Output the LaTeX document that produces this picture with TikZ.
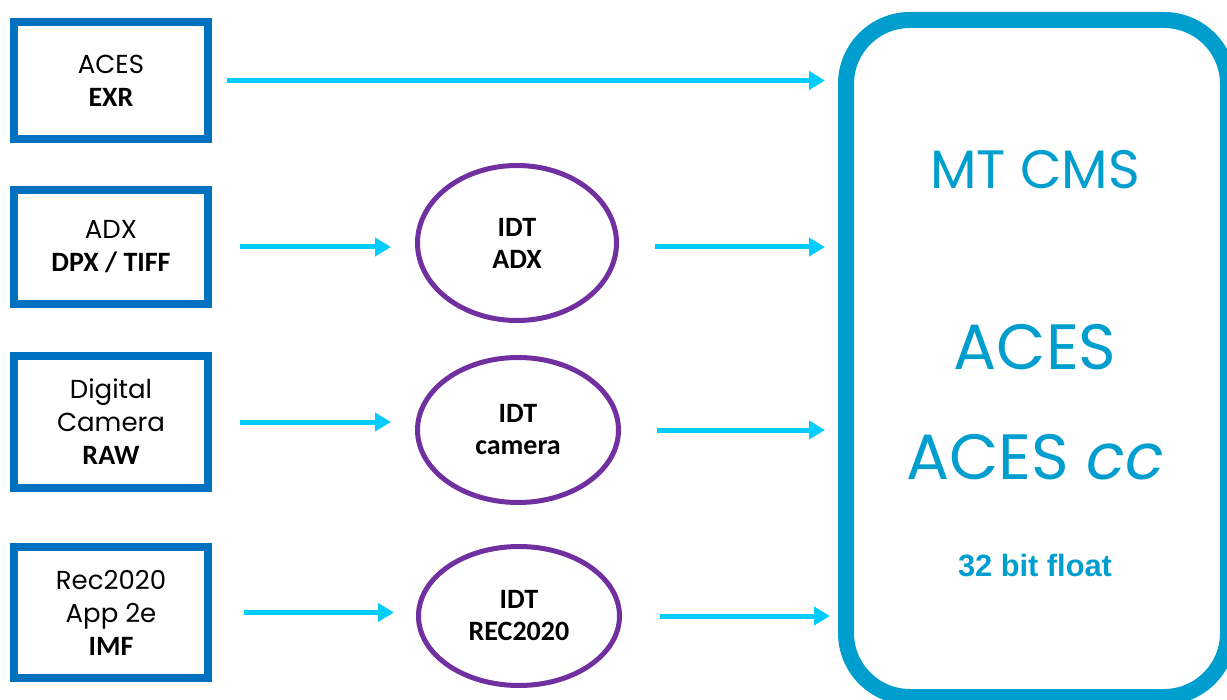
\documentclass[tikz,border=0pt]{standalone}
\usepackage{fontspec}
\setmainfont{Poppins}
\newfontfamily\carl{Carlito}
\newfontfamily\arial{Liberation Sans}
\usetikzlibrary{arrows.meta,shapes.geometric}

\definecolor{boxblue}{RGB}{0,112,192}
\definecolor{idtpurple}{RGB}{112,48,160}
\definecolor{flowcyan}{RGB}{0,204,255}
\definecolor{cmsblue}{RGB}{0,158,206}

\begin{document}
\begin{tikzpicture}[x=0.5pt,y=-0.5pt,
    srcbox/.style={draw=boxblue, line width=4pt, fill=white, minimum width=97pt,
      align=center, font=\fontsize{13}{16.5}\selectfont},
    idt/.style={ellipse, draw=idtpurple, line width=2.5pt, inner sep=0pt, align=center,
      font=\carl\bfseries\fontsize{14}{16}\selectfont},
    flow/.style={draw=flowcyan, line width=2.5pt, -{Triangle[length=8pt,width=9pt]}}]
  \clip (0,0) rectangle (1227,700);
  \fill[white] (0,0) rectangle (1227,700);
  %
  % sources
  \node[srcbox, minimum height=58.5pt] (exr) at (111,80.5)
    {ACES\\{\carl\bfseries\fontsize{14}{16.5}\selectfont EXR}};
  \node[srcbox, minimum height=57pt] (dpx) at (111,247)
    {ADX\\{\carl\bfseries\fontsize{14}{16.5}\selectfont DPX / TIFF}};
  \node[srcbox, minimum height=66pt] (raw) at (111,422)
    {Digital\\Camera\\{\carl\bfseries\fontsize{14}{16.5}\selectfont RAW}};
  \node[srcbox, minimum height=65.5pt] (imf) at (111,612.5)
    {Rec2020\\App 2e\\{\carl\bfseries\fontsize{14}{16.5}\selectfont IMF}};
  %
  % input transforms
  \node[idt, minimum width=99.5pt, minimum height=77.5pt] (idtadx) at (517,243) {IDT\\ADX};
  \node[idt, minimum width=100.5pt, minimum height=72.5pt] (idtcam) at (518,430) {IDT\\camera};
  \node[idt, minimum width=100.5pt, minimum height=69.5pt] (idtrec) at (519,616) {IDT\\REC2020};
  %
  % colour management system
  \node[draw=cmsblue, line width=8pt, rounded corners=32pt, minimum width=191pt,
    minimum height=338.5pt] (cms) at (1037,358.5) {};
  \node[text=cmsblue, font=\fontsize{27}{30}\selectfont] (mtcms) at (1035,170) {MT CMS};
  \node[text=cmsblue, font=\fontsize{32}{36}\selectfont] (aces) at (1035,347) {ACES};
  \node[text=cmsblue, font=\fontsize{32}{36}\selectfont] (acescc) at (1035,457) {ACES \textit{cc}};
  \node[text=cmsblue, font=\arial\bfseries\fontsize{15.4}{18}\selectfont] (float) at (1035,566) {32 bit float};
  %
  % connectors
  \draw[flow, shorten <=7.5pt, shorten >=6.5pt] (exr.east) -- (exr.east -| cms.west);
  \draw[flow, shorten <=14pt, shorten >=12pt] (dpx.east) -- (dpx.east -| idtadx.west);
  \draw[flow, shorten <=14pt, shorten >=12pt] (raw.east) -- (raw.east -| idtcam.west);
  \draw[flow, shorten <=16pt, shorten >=11pt] (imf.east) -- (imf.east -| idtrec.west);
  \draw[flow, shorten <=18pt, shorten >=6.5pt] (idtadx.east |- dpx.east) -- (dpx.east -| cms.west);
  \draw[flow, shorten <=18pt, shorten >=6.5pt] (idtcam.east) -- (idtcam.east -| cms.west);
  \draw[flow, shorten <=19pt, shorten >=4pt] (idtrec.east) -- (idtrec.east -| cms.west);
\end{tikzpicture}
\end{document}
